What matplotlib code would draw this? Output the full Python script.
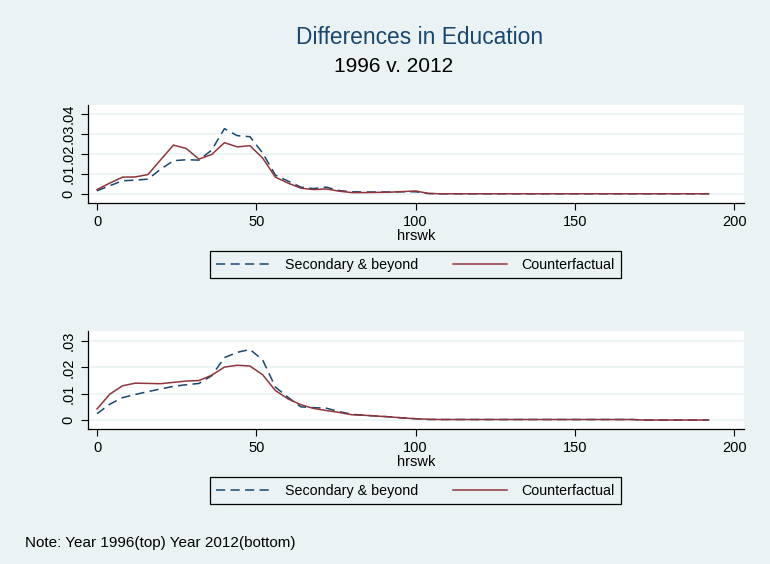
import numpy as np
import matplotlib.pyplot as plt

# weekly hours grid (4-hour bins)
hrswk = np.arange(0, 193, 4)

tail = [0.0002] * 22

# 1996
sec_96 = [0.0017, 0.0042, 0.0067, 0.0070, 0.0075, 0.0125, 0.0167, 0.0172, 0.0170,
          0.0220, 0.0327, 0.0292, 0.0287, 0.0205, 0.0095, 0.0065, 0.0035, 0.0028,
          0.0035, 0.0018, 0.0012, 0.0011, 0.0011, 0.0011, 0.0012, 0.0012, 0.0003] + tail
cf_96 = [0.0023, 0.0055, 0.0085, 0.0086, 0.0098, 0.0172, 0.0245, 0.0228, 0.0175,
         0.0198, 0.0257, 0.0236, 0.0242, 0.0180, 0.0085, 0.0055, 0.0030, 0.0023,
         0.0026, 0.0015, 0.0008, 0.0008, 0.0009, 0.0010, 0.0013, 0.0016, 0.0004] + tail

# 2012
sec_12 = [0.0024, 0.0060, 0.0085, 0.0097, 0.0108, 0.0118, 0.0128, 0.0134, 0.0139,
          0.0168, 0.0237, 0.0257, 0.0268, 0.0228, 0.0125, 0.0086, 0.0050, 0.0047,
          0.0045, 0.0032, 0.0022, 0.0018, 0.0015, 0.0012, 0.0008, 0.0005, 0.0002,
          0.0002, 0.0002, 0.0002, 0.0002, 0.0002, 0.0002, 0.0002, 0.0002, 0.0002,
          0.0002, 0.0002, 0.0002, 0.0002, 0.0002, 0.0002, 0.0002, 0.0000, 0.0000,
          0.0000, 0.0000, 0.0000, 0.0000]
cf_12 = [0.0042, 0.0098, 0.0130, 0.0140, 0.0139, 0.0138, 0.0143, 0.0148, 0.0150,
         0.0170, 0.0201, 0.0208, 0.0205, 0.0172, 0.0112, 0.0080, 0.0058, 0.0044,
         0.0036, 0.0029, 0.0020, 0.0018, 0.0015, 0.0012, 0.0008, 0.0005, 0.0003,
         0.0002, 0.0002, 0.0002, 0.0002, 0.0002, 0.0002, 0.0002, 0.0002, 0.0002,
         0.0002, 0.0002, 0.0002, 0.0002, 0.0002, 0.0002, 0.0002, 0.0000, 0.0000,
         0.0000, 0.0000, 0.0000, 0.0000]

xticks = [0, 50, 100, 150, 200]
yticks_96 = [0, 0.01, 0.02, 0.03, 0.04]
ylabels_96 = ['0', '.01', '.02', '.03', '.04']
yticks_12 = [0, 0.01, 0.02, 0.03]
ylabels_12 = ['0', '.01', '.02', '.03']

bg = '#eaf2f3'
navy = '#1a476f'
maroon = '#90353b'

plt.rcParams['font.family'] = ['Liberation Sans', 'DejaVu Sans']

fig = plt.figure(figsize=(7.7, 5.64), dpi=100, facecolor=bg)
W, H = 770, 564


def panel(top, sec, cf, yticks, ylabels, ylim, legend_y):
    ax = fig.add_axes([88 / W, 1 - (top + 98) / H, 656 / W, 98 / H])
    ax.set_facecolor('white')
    for y in yticks:
        ax.axhline(y, color=bg, lw=1.2, zorder=0)
    l1, = ax.plot(hrswk, sec, color=navy, lw=1.1, dashes=(6, 3.5))
    l2, = ax.plot(hrswk, cf, color=maroon, lw=1.1)
    ax.set_xlim(-2.83, 203.1)
    ax.set_ylim(*ylim)
    ax.set_xticks(xticks)
    ax.set_yticks(yticks)
    ax.set_yticklabels(ylabels, rotation=90, va='center')
    ax.tick_params(labelsize=10.5, length=5, width=0.8, color='black')
    ax.tick_params(axis='y', pad=4)
    ax.set_xlabel('hrswk', fontsize=10.5, labelpad=0)
    for s in ['top', 'right']:
        ax.spines[s].set_visible(False)
    for s in ['left', 'bottom']:
        ax.spines[s].set_linewidth(0.9)
    leg = fig.legend([l1, l2], ['Secondary & beyond', 'Counterfactual'],
                     loc='lower left', mode='expand', ncol=2, borderaxespad=0,
                     bbox_to_anchor=(210 / W, 1 - legend_y / H, 411 / W, 0.01),
                     fontsize=10.3, frameon=True, fancybox=False, edgecolor='black',
                     facecolor=bg, framealpha=1, handlelength=3.8, handletextpad=1.0,
                     borderpad=0.45, columnspacing=2.0)
    leg.get_frame().set_linewidth(0.9)
    return ax


panel(105, sec_96, cf_96, yticks_96, ylabels_96, (-0.0044, 0.0445), 278)
panel(331, sec_12, cf_12, yticks_12, ylabels_12, (-0.0034, 0.0338), 504)

fig.text(420 / W, 1 - 37 / H, 'Differences in Education', ha='center', va='center',
         fontsize=16.4, color=navy)
fig.text(394 / W, 1 - 67 / H, '1996 v. 2012', ha='center', va='center',
         fontsize=15, color='black')
fig.text(25 / W, 1 - 543 / H, 'Note: Year 1996(top) Year 2012(bottom)', ha='left',
         va='center', fontsize=11, color='black')

fig.savefig('out.png', dpi=100, facecolor=bg)
